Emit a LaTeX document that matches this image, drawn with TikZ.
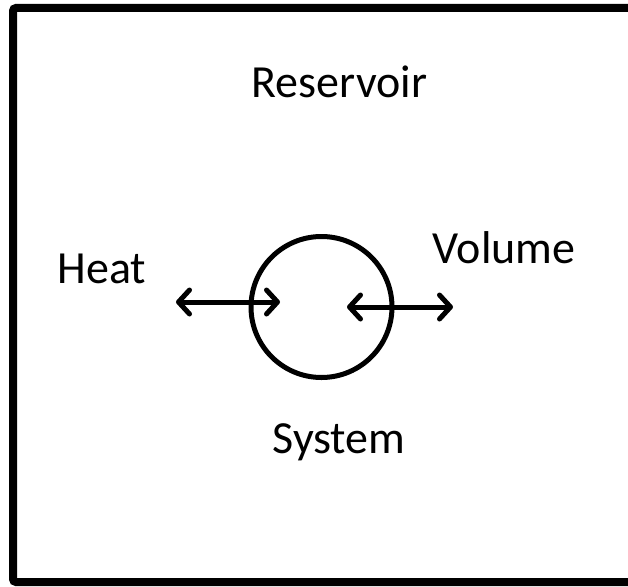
\documentclass[tikz,border=0pt]{standalone}
\usepackage{fontspec}
\setmainfont{Carlito}
\usepackage{tikz}
\usetikzlibrary{arrows.meta,positioning}
\tikzset{%
  thermframe/.style={%
    draw=black,
    line width=8pt,
    rounded corners=3pt
  },
  thermsystem/.style={%
    circle,
    draw=black,
    line width=5pt,
    minimum size=141pt,
    inner sep=0pt
  },
  thermlabel/.style={%
    anchor=base,
    inner sep=0pt,
    font=\fontsize{46}{55}\selectfont
  },
  thermarrow/.style={{Straight Barb[length=11pt,width=24pt,line cap=round,line join=round]}-{Straight Barb[length=11pt,width=24pt,line cap=round,line join=round]},line width=5pt,line cap=round}
}
\begin{document}
\begin{tikzpicture}[x=1pt,y=-1pt]
    \useasboundingbox (0,0) rectangle (628,586);
    \draw[thermframe] (13,8) rectangle (636,582);

    \node[thermsystem] (system) at (321.5,307) {};
    \node[thermlabel] (reservoir) at (339.5,97) {Reservoir};
    \node[thermlabel] (heat) at (102,283) {Heat};
    \node[thermlabel] (volume) at (504,263) {Volume};
    \node[thermlabel] (syslabel) at (339,453) {System};

    \coordinate (heatout) at (176,302);
    \coordinate (heatin) at (280,302);
    \coordinate (volin) at (347,307);
    \coordinate (volout) at (453,307);

    \draw[thermarrow] (heatout) -- (heatin);
    \draw[thermarrow] (volin) -- (volout);
  \end{tikzpicture}
\end{document}
